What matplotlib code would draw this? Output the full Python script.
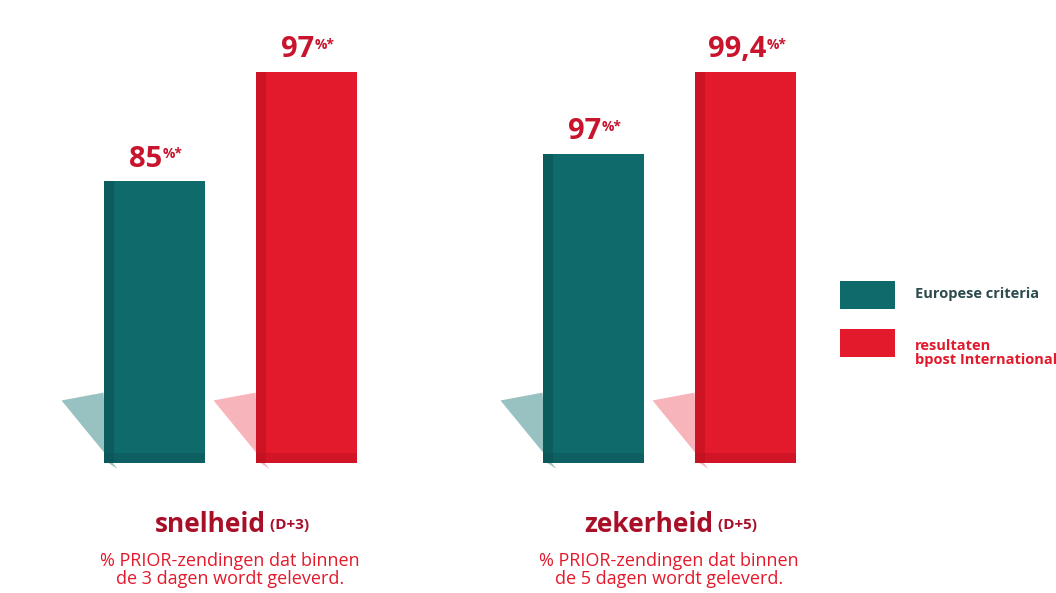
import matplotlib
matplotlib.use("Agg")
import matplotlib.pyplot as plt
from matplotlib.patches import Polygon, Rectangle

# data
groups = ["snelheid", "zekerheid"]
group_codes = ["(D+3)", "(D+5)"]
group_notes = ["% PRIOR-zendingen dat binnen\nde 3 dagen wordt geleverd.",
               "% PRIOR-zendingen dat binnen\nde 5 dagen wordt geleverd."]
series = ["Europese criteria", "resultaten\nbpost International"]
value_labels = [["85", "97"], ["97", "99,4"]]
# drawn bar heights (tallest bar = 100), the chart is not to scale
drawn_heights = [[72, 100], [79, 100]]

teal = "#0f6a6c"
teal_dark = "#0a5052"
red = "#e3192c"
red_dark = "#b8101f"
label_red = "#c8142d"
title_red = "#a80f28"

plt.rcParams['font.family'] = ['Open Sans', 'DejaVu Sans']

fig = plt.figure(figsize=(10.56, 5.93), dpi=100)
fig.patch.set_facecolor("white")

# bar axes: x in pixels, y in drawn units (0 at bar bottom, 100 at the top of the tallest bar)
ax = fig.add_axes([0, (593 - 463) / 593, 1, 391 / 593])
ax.set_xlim(0, 1056)
ax.set_ylim(0, 100)
ax.axis("off")

group_centers = [230, 669]
offset = 76
width = 101
colors = [(teal, teal_dark, "#7fb2b2"), (red, red_dark, "#f5a3aa")]

for g, center in enumerate(group_centers):
    for s in range(2):
        x = center + (s * 2 - 1) * offset
        h = drawn_heights[g][s]
        face, dark, shade = colors[s]
        left = x - width / 2
        # soft shadow to the left of the bar foot
        ax.add_patch(Polygon([(left, 18), (left - 42, 16), (left + 14, -1.5), (left + 5, 0)],
                             closed=True, facecolor=shade, edgecolor="none", alpha=0.8,
                             clip_on=False, zorder=1))
        ax.bar(x, h, width=width, color=face, zorder=2)
        # darker left side and foot for the 3D look
        ax.add_patch(Rectangle((left, 0), 10, h, facecolor=dark, edgecolor="none",
                               alpha=0.5, zorder=3))
        ax.add_patch(Rectangle((left, 0), width, 2.5, facecolor=dark, edgecolor="none",
                               alpha=0.4, zorder=3))
        num = ax.text(x - 8, h + 2, value_labels[g][s], ha="center", va="bottom",
                      fontsize=21, fontweight="bold", color=label_red, zorder=4)
        ax.annotate("%*", xy=(1.0, 0.92), xycoords=num, ha="left", va="top",
                    fontsize=10, fontweight="bold", color=label_red)

# group captions
for g, center in enumerate(group_centers):
    t = fig.text((center - 20) / 1056, 1 - 524 / 593, groups[g], ha="center", va="center",
                 fontsize=19, fontweight="bold", color=title_red)
    ax.annotate(" " + group_codes[g], xy=(1.0, 0.33), xycoords=t, ha="left", va="baseline",
                fontsize=11, fontweight="bold", color=title_red)
    fig.text(center / 1056, 1 - 570 / 593, group_notes[g], ha="center", va="center",
             fontsize=13, color=red, linespacing=1.0)

# legend
leg_boxes = [(840, 281, teal), (840, 329, red)]
for (bx, by, c) in leg_boxes:
    fig.patches.append(Rectangle((bx / 1056, 1 - (by + 28) / 593), 55 / 1056, 28 / 593,
                                 transform=fig.transFigure, facecolor=c, edgecolor="none"))
fig.text(915 / 1056, 1 - 294 / 593, series[0], ha="left", va="center",
         fontsize=10.5, fontweight="bold", color="#2d4b4d")
fig.text(915 / 1056, 1 - 353 / 593, series[1], ha="left", va="center",
         fontsize=10.5, fontweight="bold", color=red, linespacing=0.95)

fig.savefig("out.png", dpi=100, facecolor="white")
